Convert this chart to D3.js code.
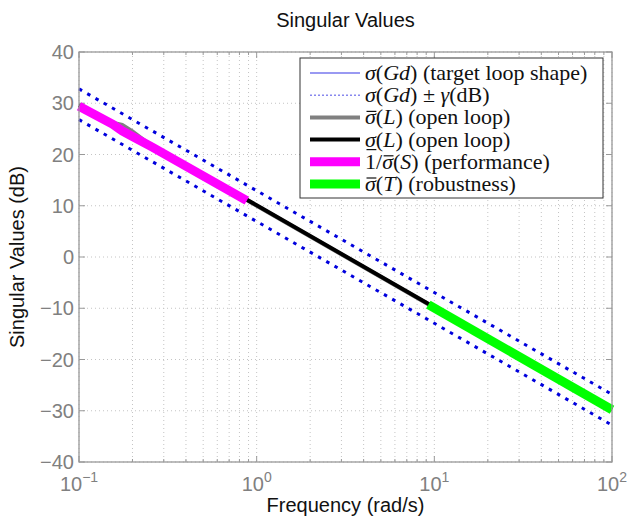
<!DOCTYPE html>
<html>
<head>
<meta charset="utf-8">
<script src="https://cdn.jsdelivr.net/npm/d3@7"></script>
<style>
  body { margin: 0; background: #fff; }
  svg { display: block; }
</style>
</head>
<body>
<svg id="chart" width="627" height="525"></svg>
<script>
// tick values
var xTicks = [0.1, 1, 10, 100];
var xTickExp = ['\u22121', '0', '1', '2'];
var yTicks = [-40, -30, -20, -10, 0, 10, 20, 30, 40];

// target loop shape and its +/- gamma band
var gdFreq = [0.1, 100];
var gdDb = [29.8, -29.8];
var upperDb = [32.8, -26.8];
var lowerDb = [26.8, -32.8];

// open loop singular values
var maxLFreq = [0.1, 0.15, 0.175, 0.2, 0.24, 1, 10, 100];
var maxLDb = [29.6, 26.3, 25.8, 24.5, 22.4, 10.0, -9.9, -29.8];
var minLFreq = [0.1, 1, 10, 100];
var minLDb = [29.6, 10.1, -9.8, -29.8];

// performance / robustness pieces
var perfFreq = [0.1, 0.155, 0.175, 0.2, 0.26, 0.88];
var perfDb = [29.4, 25.9, 24.6, 23.5, 21.4, 11.0];
var robFreq = [9.25, 100];
var robDb = [-9.3, -29.8];

var svg = d3.select('#chart');

var margin = { top: 52, right: 15, bottom: 63, left: 79 };
var width = 627 - margin.left - margin.right;
var height = 525 - margin.top - margin.bottom;

var x = d3.scaleLog().domain([0.1, 100]).range([0, width]);
var y = d3.scaleLinear().domain([-40, 40]).range([height, 0]);

var g = svg.append('g')
  .attr('transform', 'translate(' + margin.left + ',' + margin.top + ')');

// minor + major x grid
var xGrid = x.ticks(30);
g.append('g').selectAll('line')
  .data(xGrid)
  .enter().append('line')
  .attr('x1', function (d) { return x(d); })
  .attr('x2', function (d) { return x(d); })
  .attr('y1', 0).attr('y2', height)
  .attr('stroke', '#c4c4c4').attr('stroke-width', 1)
  .attr('stroke-dasharray', '1,3');

g.append('g').selectAll('line')
  .data(yTicks)
  .enter().append('line')
  .attr('x1', 0).attr('x2', width)
  .attr('y1', function (d) { return y(d); })
  .attr('y2', function (d) { return y(d); })
  .attr('stroke', '#c4c4c4').attr('stroke-width', 1)
  .attr('stroke-dasharray', '1,3');

// inside tick marks (matlab style)
var tickG = g.append('g').attr('stroke', '#999').attr('stroke-width', 1);
xGrid.forEach(function (d) {
  var len = xTicks.indexOf(d) >= 0 ? 6 : 3;
  tickG.append('line').attr('x1', x(d)).attr('x2', x(d)).attr('y1', 0).attr('y2', len);
  tickG.append('line').attr('x1', x(d)).attr('x2', x(d)).attr('y1', height).attr('y2', height - len);
});
yTicks.forEach(function (d) {
  tickG.append('line').attr('y1', y(d)).attr('y2', y(d)).attr('x1', 0).attr('x2', 6);
  tickG.append('line').attr('y1', y(d)).attr('y2', y(d)).attr('x1', width).attr('x2', width - 6);
});

function toPts(freq, db) {
  return freq.map(function (f, i) { return [f, db[i]]; });
}
var line = d3.line()
  .x(function (d) { return x(d[0]); })
  .y(function (d) { return y(d[1]); });

var plot = g.append('g');

plot.append('path').datum(toPts(gdFreq, gdDb))
  .attr('d', line).attr('fill', 'none')
  .attr('stroke', '#6666ee').attr('stroke-width', 1);

[upperDb, lowerDb].forEach(function (b) {
  plot.append('path').datum(toPts(gdFreq, b))
    .attr('d', line).attr('fill', 'none')
    .attr('stroke', '#0000dd').attr('stroke-width', 3)
    .attr('stroke-dasharray', '3.5,6');
});

plot.append('path').datum(toPts(maxLFreq, maxLDb))
  .attr('d', line).attr('fill', 'none')
  .attr('stroke', '#808080').attr('stroke-width', 4);

plot.append('path').datum(toPts(minLFreq, minLDb))
  .attr('d', line).attr('fill', 'none')
  .attr('stroke', '#000').attr('stroke-width', 4);

plot.append('path').datum(toPts(perfFreq, perfDb))
  .attr('d', line).attr('fill', 'none')
  .attr('stroke', '#ff00ff').attr('stroke-width', 9);

plot.append('path').datum(toPts(robFreq, robDb))
  .attr('d', line).attr('fill', 'none')
  .attr('stroke', '#00ff00').attr('stroke-width', 9);

// axes box
g.append('rect')
  .attr('width', width).attr('height', height)
  .attr('fill', 'none').attr('stroke', '#999').attr('stroke-width', 1.3);

// tick labels
var labelFont = 'Liberation Sans, Arial, sans-serif';
g.append('g').selectAll('text')
  .data(yTicks)
  .enter().append('text')
  .attr('x', -5)
  .attr('y', function (d) { return y(d); })
  .attr('dy', '0.36em')
  .attr('text-anchor', 'end')
  .attr('font-family', labelFont)
  .attr('font-size', 20)
  .attr('fill', '#808080')
  .text(function (d) { return d < 0 ? '\u2212' + Math.abs(d) : d; });

xTicks.forEach(function (d, i) {
  var t = g.append('text')
    .attr('x', x(d))
    .attr('y', height + 29)
    .attr('text-anchor', 'middle')
    .attr('font-family', labelFont)
    .attr('font-size', 20)
    .attr('fill', '#808080');
  t.append('tspan').text('10');
  t.append('tspan').attr('dy', -9).attr('font-size', 14).text(xTickExp[i]);
});

// title + axis labels
svg.append('text')
  .attr('x', margin.left + width / 2).attr('y', 27)
  .attr('text-anchor', 'middle')
  .attr('font-family', labelFont).attr('font-size', 20)
  .attr('fill', '#111')
  .text('Singular Values');

svg.append('text')
  .attr('x', margin.left + width / 2).attr('y', 512)
  .attr('text-anchor', 'middle')
  .attr('font-family', labelFont).attr('font-size', 20)
  .attr('fill', '#111')
  .text('Frequency (rad/s)');

svg.append('text')
  .attr('transform', 'translate(24,' + (margin.top + height / 2) + ') rotate(-90)')
  .attr('text-anchor', 'middle')
  .attr('font-family', labelFont).attr('font-size', 20)
  .attr('fill', '#111')
  .text('Singular Values (dB)');

// legend
var legendItems = [
  { parts: [['\u03c3', 1], ['(', 0], ['Gd', 1], [') (target loop shape)', 0]], color: '#7777ee', w: 1.4, dash: null },
  { parts: [['\u03c3', 1], ['(', 0], ['Gd', 1], [') \u00b1 ', 0], ['\u03b3', 1], ['(dB)', 0]], color: '#8888ee', w: 1.4, dash: '2,2' },
  { parts: [['\u03c3', 1], ['(', 0], ['L', 1], [') (open loop)', 0]], color: '#808080', w: 4, bar: 'over' },
  { parts: [['\u03c3', 1], ['(', 0], ['L', 1], [') (open loop)', 0]], color: '#000', w: 4, bar: 'under' },
  { parts: [['1/', 0], ['\u03c3', 1], ['(', 0], ['S', 1], [') (performance)', 0]], color: '#ff00ff', w: 9, bar: 'over' },
  { parts: [['\u03c3', 1], ['(', 0], ['T', 1], [') (robustness)', 0]], color: '#00ff00', w: 9, bar: 'over' }
];

var legend = svg.append('g');
legend.append('rect')
  .attr('x', 300).attr('y', 58)
  .attr('width', 303).attr('height', 140)
  .attr('fill', '#fff').attr('stroke', '#333').attr('stroke-width', 1);

var serif = 'Liberation Serif, DejaVu Serif, serif';
legendItems.forEach(function (item, i) {
  var cy = 73 + i * 22.2;
  legend.append('line')
    .attr('x1', 310).attr('x2', 360)
    .attr('y1', cy).attr('y2', cy)
    .attr('stroke', item.color).attr('stroke-width', item.w)
    .attr('stroke-dasharray', item.dash);
  var t = legend.append('text')
    .attr('x', 365).attr('y', cy + 7)
    .attr('font-family', serif).attr('font-size', 22)
    .attr('fill', '#111');
  var sigmaIndex = -1, pos = 0;
  item.parts.forEach(function (p) {
    if (p[0] === '\u03c3' && sigmaIndex < 0) sigmaIndex = pos;
    pos += p[0].length;
    t.append('tspan')
      .attr('font-style', p[1] ? 'italic' : 'normal')
      .style('white-space', 'pre')
      .text(p[0]);
  });
  t.attr('xml:space', 'preserve');
  if (item.bar && sigmaIndex >= 0) {
    var ext = t.node().getExtentOfChar(sigmaIndex);
    var by = item.bar === 'over' ? cy - 6 : cy + 10;
    legend.append('line')
      .attr('x1', ext.x + 1.5).attr('x2', ext.x + ext.width + 0.5)
      .attr('y1', by).attr('y2', by)
      .attr('stroke', '#111').attr('stroke-width', 1.2);
  }
});
</script>
</body>
</html>
